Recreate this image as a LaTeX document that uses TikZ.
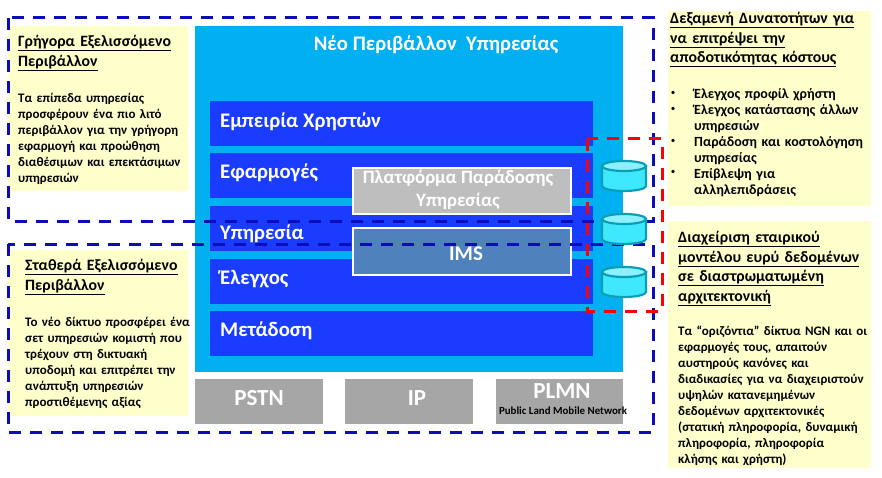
\documentclass[tikz,border=0pt]{standalone}
\usepackage{fontspec}
\setmainfont{Carlito}
\definecolor{lyel}{HTML}{FFFFCC}
\definecolor{lblue}{HTML}{00B0F0}
\definecolor{lay}{HTML}{1A3CFF}
\definecolor{dsh}{HTML}{0C0CB8}
\definecolor{grb}{HTML}{A6A6A6}
\definecolor{cylf}{HTML}{40E8FF}
\definecolor{cylt}{HTML}{8CF0FF}
\definecolor{cyle}{HTML}{0AA0B4}
\definecolor{imsb}{HTML}{4F81BD}
\tikzset{
 x=1pt,y=-1pt,
 yel/.style={fill=lyel,draw=none},
 layer/.style={fill=lay,draw=none},
 laytxt/.style={anchor=west,text=white,font=\bfseries\fontsize{20.7}{22}\selectfont,inner sep=0pt},
 botbox/.style={fill=grb,draw=none},
 bottxt/.style={text=white,font=\bfseries\fontsize{23}{25}\selectfont,inner sep=0pt},
 plat/.style={draw=white,line width=2.4pt},
 dashbox/.style={draw=dsh,line width=3pt,dash pattern=on 12pt off 9pt},
 heading/.style={anchor=north west,inner sep=0pt,align=left,text width=#1,font=\bfseries\fontsize{15.8}{19.6}\selectfont},
 body/.style={anchor=north west,inner sep=0pt,align=left,text width=#1,font=\bfseries\fontsize{13}{16}\selectfont},
 bodyb/.style={anchor=north west,inner sep=0pt,align=left,text width=#1,font=\bfseries\fontsize{14}{16}\selectfont},
 bul/.style={inner sep=0pt,font=\fontsize{9}{10}\selectfont},
 cyl/.style={draw=cyle,line width=2.2pt,fill=cylf}
}
\newcommand{\ul}[1]{\underline{#1}}
\newcommand{\dbcyl}[2]{%
 \path[cyl] (#1-22,#2-10) -- (#1-22,#2+10) arc[x radius=22,y radius=5,start angle=180,end angle=0] -- (#1+22,#2-10) -- cycle;
 \path[cyl,fill=cylt] (#1,#2-10) ellipse[x radius=22,y radius=5];}
\begin{document}
\begin{tikzpicture}
\useasboundingbox (0,0) rectangle (882,478);
\fill[white] (0,0) rectangle (882,478);
% panels
\path[yel] (8,26) rectangle (188,191);
\path[yel] (8,250) rectangle (188,416);
\path[yel] (668,11) rectangle (871,206);
\path[yel] (668,221) rectangle (871,468);
\fill[lblue] (195,26) rectangle (623,372);
\node[text=white,font=\bfseries\fontsize{20.7}{22}\selectfont,inner sep=0pt] (title) at (436,45) {Νέο Περιβάλλον\ \ Υπηρεσίας};
% layers
\path[layer] (210,101) rectangle (593,146);
\path[layer] (210,153) rectangle (593,198);
\path[layer] (210,206) rectangle (593,251);
\path[layer] (210,259) rectangle (593,304);
\path[layer] (210,311) rectangle (593,356);
\node[laytxt] (l1) at (220,122) {Εμπειρία Χρηστών};
\node[laytxt] (l2) at (220,173) {Εφαρμογές};
\node[laytxt] (l3) at (220,234) {Υπηρεσία};
\node[laytxt] (l4) at (220,279) {Έλεγχος};
\node[laytxt] (l5) at (220,331) {Μετάδοση};
% platform boxes
\path[plat,fill={rgb,255:red,190;green,190;blue,190}] (353,168) rectangle (571,214);
\path[plat,fill=imsb] (353,228) rectangle (571,275);
\node[text=white,align=center,font=\bfseries\fontsize{18.8}{23}\selectfont,inner sep=0pt] (plat) at (458,190) {Πλατφόρμα Παράδοσης\\Υπηρεσίας};
\node[text=white,font=\bfseries\fontsize{21}{23}\selectfont,inner sep=0pt] (ims) at (466,254) {IMS};
% bottom boxes
\path[botbox] (195,379) rectangle (323,424);
\path[botbox] (345,379) rectangle (473,424);
\path[botbox] (496,379) rectangle (623,424);
\node[bottxt] (pstn) at (259,398) {PSTN};
\node[bottxt] (ip) at (417,398) {IP};
\node[bottxt] (plmn) at (562,391) {PLMN};
\node[inner sep=0pt,font=\bfseries\fontsize{10.9}{12}\selectfont] (plmnt) at (563,411) {Public Land Mobile Network};
% dashed frames
\draw[dashbox] (8,18) rectangle (653,221);
\draw[dashbox] (8,244) rectangle (653,432);
\draw[draw=red,line width=3pt,dash pattern=on 12pt off 9pt] (587,139) rectangle (662,311);
% cylinders
\dbcyl{624}{176}
\dbcyl{624}{229}
\dbcyl{624}{282}
% left texts
\node[heading=168pt] (h1) at (18,35) {\ul{Γρήγορα Εξελισσόμενο}\\\ul{Περιβάλλον}};
\node[body=168pt] (b1) at (18,93) {Τα επίπεδα υπηρεσίας\\προσφέρουν ένα πιο λιτό\\περιβάλλον για την γρήγορη\\εφαρμογή και προώθηση\\διαθέσιμων και επεκτάσιμων\\υπηρεσιών};
\node[heading=165pt] (h2) at (25,259) {\ul{Σταθερά Εξελισσόμενο}\\\ul{Περιβάλλον}};
\node[body=165pt] (b2) at (25,317) {Το νέο δίκτυο προσφέρει ένα\\σετ υπηρεσιών κομιστή που\\τρέχουν στη δικτυακή\\υποδομή και επιτρέπει την\\ανάπτυξη υπηρεσιών\\προστιθέμενης αξίας};
% right texts
\node[heading=200pt] (h3) at (670,12) {\ul{Δεξαμενή Δυνατοτήτων για}\\\ul{να επιτρέψει την}\\\ul{αποδοτικότητας κόστους}};
\node[bul] (bu1) at (673,93) {•};
\node[bul] (bu2) at (673,109) {•};
\node[bul] (bu3) at (673,141) {•};
\node[bul] (bu4) at (673,172) {•};
\node[bodyb=175pt] (b3) at (694,88) {Έλεγχος προφίλ χρήστη\\Έλεγχος κατάστασης άλλων\\υπηρεσιών\\Παράδοση και κοστολόγηση\\υπηρεσίας\\Επίβλεψη για\\αλληλεπιδράσεις};
\node[heading=195pt] (h4) at (678,231) {\ul{Διαχείριση εταιρικού}\\\ul{μοντέλου ευρύ δεδομένων}\\\ul{σε διαστρωματωμένη}\\\ul{αρχιτεκτονική}};
\node[body=195pt] (b4) at (678,326) {Τα “οριζόντια” δίκτυα NGN και οι\\εφαρμογές τους, απαιτούν\\αυστηρούς κανόνες και\\διαδικασίες για να διαχειριστούν\\υψηλών κατανεμημένων\\δεδομένων αρχιτεκτονικές\\(στατική πληροφορία, δυναμική\\πληροφορία, πληροφορία\\κλήσης και χρήστη)};
\end{tikzpicture}
\end{document}
